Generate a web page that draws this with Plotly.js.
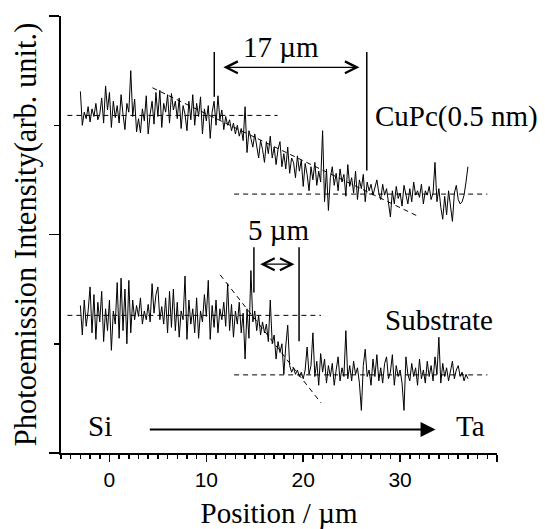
<!DOCTYPE html>
<html>
<head>
<meta charset="utf-8">
<script src="https://cdn.plot.ly/plotly-3.0.1.min.js"></script>
<style>html,body{margin:0;padding:0;background:#fff;}#chart{width:545px;height:529px;}</style>
</head>
<body>
<div id="chart"></div>
<script>
// Positions (µm) shared by both line scans
const position = [
-3,-2.8,-2.6,-2.4,-2.2, -2,-1.8,-1.6,-1.4,-1.2, -1,-0.8,-0.6,-0.4,-0.2,
0,0.2,0.4,0.6,0.8, 1,1.2,1.4,1.6,1.8, 2,2.2,2.4,2.6,2.8, 3,3.2,3.4,3.6,3.8,
4,4.2,4.4,4.6,4.8, 5,5.2,5.4,5.6,5.8, 6,6.2,6.4,6.6,6.8, 7,7.2,7.4,7.6,7.8,
8,8.2,8.4,8.6,8.8, 9,9.2,9.4,9.6,9.8, 10,10.2,10.4,10.6,10.8, 11,11.2,11.4,11.6,11.8,
12,12.2,12.4,12.6,12.8, 13,13.2,13.4,13.6,13.8, 14,14.2,14.4,14.6,14.8, 15,15.2,15.4,15.6,15.8,
16,16.2,16.4,16.6,16.8, 17,17.2,17.4,17.6,17.8, 18,18.2,18.4,18.6,18.8, 19,19.2,19.4,19.6,19.8,
20,20.2,20.4,20.6,20.8, 21,21.2,21.4,21.6,21.8, 22,22.2,22.4,22.6,22.8, 23,23.2,23.4,23.6,23.8,
24,24.2,24.4,24.6,24.8, 25,25.2,25.4,25.6,25.8, 26,26.2,26.4,26.6,26.8, 27,27.2,27.4,27.6,27.8,
28,28.2,28.4,28.6,28.8, 29,29.2,29.4,29.6,29.8, 30,30.2,30.4,30.6,30.8, 31,31.2,31.4,31.6,31.8,
32,32.2,32.4,32.6,32.8, 33,33.2,33.4,33.6,33.8, 34,34.2,34.4,34.6,34.8, 35,35.2,35.4,35.6,35.8,
36,36.2,36.4,36.6,36.8, 37
];

// CuPc(0.5 nm) line scan (arb. unit, offset)
const cupcIntensity = [
3.31,3.00,3.12,3.06,3.17, 3.03,3.15,3.08,3.20,3.05, 3.10,3.25,3.02,3.36,3.14,
3.30,2.98,3.22,3.07,3.18, 3.02,3.28,3.10,2.96,3.20, 3.12,3.50,3.08,3.24,2.94, 3.06,2.93,3.15,3.04,3.27,
2.92,3.10,3.22,3.01,3.30, 3.08,3.32,2.98,3.20,3.12, 3.28,3.02,3.29,3.14,3.22, 3.06,3.25,2.97,3.18,3.10,
2.95,3.22,3.05,3.28,3.00, 3.20,3.08,3.26,2.92,3.15, 3.04,3.18,2.88,3.12,3.22, 3.00,3.27,3.05,3.14,2.96,
3.08,3.00,3.05,2.95,3.02, 2.92,3.00,2.90,2.97,2.86, 3.17,2.75,2.95,2.88,2.80, 2.92,2.82,2.70,2.86,2.78,
2.66,2.85,2.74,2.90,2.70, 2.80,2.64,2.78,2.85,2.62, 2.74,2.60,2.80,2.56,2.70, 2.66,2.52,2.72,2.58,2.68,
2.44,2.65,2.55,2.40,2.62, 2.50,2.66,2.45,2.58,2.48, 2.95,2.30,2.60,2.22,2.52, 2.62,2.45,2.56,2.40,2.60,
2.48,2.55,2.35,2.64,2.44, 2.52,2.38,2.58,2.32,2.50, 2.42,2.55,2.30,2.48,2.40, 2.46,2.36,2.44,2.50,2.38,
2.32,2.46,2.36,2.42,2.30, 2.16,2.40,2.28,2.44,2.33, 2.38,2.26,2.45,2.35,2.28, 2.42,2.30,2.48,2.36,2.40,
2.34,2.46,2.28,2.40,2.36, 2.44,2.32,2.38,2.66,2.30, 2.42,2.25,2.14,2.35,2.18, 2.40,2.28,2.12,2.38,2.45,
2.32,2.28,2.30,2.36,2.48, 2.62
];

// Substrate line scan (arb. unit)
const substrateIntensity = [
1.35,1.08,1.40,1.16,1.30, 1.52,1.10,1.45,1.04,1.38, 1.20,1.48,1.02,1.32,1.12,
1.40,0.94,1.30,1.18,1.56, 1.05,1.60,1.12,1.50,1.00, 1.58,1.10,1.40,1.22,1.35, 1.25,1.42,1.18,1.30,1.22,
1.36,1.20,1.55,1.28,1.45, 1.52,1.22,1.34,1.18,1.42, 1.10,1.48,1.15,1.50,1.12, 1.38,1.06,1.30,1.22,1.62,
1.04,1.40,1.18,1.32,1.10, 1.42,1.05,1.30,1.20,1.45, 1.25,1.58,1.04,1.35,1.15, 1.40,1.10,1.32,1.22,1.38,
1.16,1.55,1.12,1.36,1.06, 1.30,1.18,1.38,1.10,1.28, 0.86,1.32,1.05,1.67,1.20, 1.30,1.12,1.26,1.08,1.20,
1.10,1.18,1.02,1.40,1.00, 1.08,0.86,1.02,0.92,1.00, 0.72,0.98,1.17,0.80,0.74, 0.78,0.72,0.76,0.70,0.74,
0.68,0.76,0.97,0.72,0.80, 1.10,0.70,0.84,0.62,0.91, 0.74,0.86,0.64,0.80,0.70, 0.82,0.62,0.76,0.88,0.66,
0.78,0.70,1.12,0.68,0.80, 0.66,0.84,0.72,0.78,0.64, 0.39,0.80,0.95,0.70,0.76, 0.62,0.86,0.70,0.90,0.66,
0.78,0.64,0.82,0.88,0.68, 0.74,0.90,0.62,0.80,0.70, 0.76,0.64,0.39,0.88,0.72, 0.66,0.82,0.70,0.78,0.62,
0.86,0.68,0.76,0.64,0.84, 0.70,0.80,0.66,0.88,0.72, 1.06,0.64,0.82,0.70,0.78, 0.66,0.74,0.84,0.68,0.76,
0.80,0.70,0.74,0.66,0.72, 0.68
];

// Plateau levels and edge-fit lines
const cupcLevels = [3.09, 2.37];
const cupcSlope = {x: [4.44, 31.7], y: [3.343, 2.173]};
const cupcEdges = [10.82, 26.56];
const subLevels = [1.26, 0.715];
const subSlope = {x: [11.43, 21.83], y: [1.63, 0.459]};
const subEdges = [14.91, 19.57];

const xTickVals = [0, 10, 20, 30, 40];
const xTickText = ['0', '10', '20', '30', ''];

const serif = 'Liberation Serif, Times New Roman, Times, serif';
const sans = 'Liberation Sans, Arial, Helvetica, sans-serif';
const FS = 29;

const traces = [
  {x: position, y: cupcIntensity, type: 'scatter', mode: 'lines', line: {color: 'black', width: 1}, name: 'CuPc(0.5 nm)'},
  {x: position, y: substrateIntensity, type: 'scatter', mode: 'lines', line: {color: 'black', width: 1}, name: 'Substrate'}
];

const dashed = {color: 'black', width: 1, dash: '5px,4px'};
const solid = {color: 'black', width: 1.5};
function hline(x0, x1, y) { return {type: 'line', xref: 'x', yref: 'y', x0: x0, x1: x1, y0: y, y1: y, line: dashed}; }
function vline(x, y0, y1) { return {type: 'line', xref: 'x', yref: 'y', x0: x, x1: x, y0: y0, y1: y1, line: solid}; }

const shapes = [
  hline(-4.34, 17.35, cupcLevels[0]),
  hline(12.87, 39.0, cupcLevels[1]),
  {type: 'line', xref: 'x', yref: 'y', x0: cupcSlope.x[0], x1: cupcSlope.x[1], y0: cupcSlope.y[0], y1: cupcSlope.y[1], line: dashed},
  vline(cupcEdges[0], 3.26, 3.67),
  vline(cupcEdges[1], 2.585, 3.67),
  hline(-4.34, 21.83, subLevels[0]),
  hline(12.87, 39.0, subLevels[1]),
  {type: 'line', xref: 'x', yref: 'y', x0: subSlope.x[0], x1: subSlope.x[1], y0: subSlope.y[0], y1: subSlope.y[1], line: dashed},
  vline(subEdges[0], 1.468, 1.883),
  vline(subEdges[1], 1.024, 1.883)
];

function dbl(x0, x1, y) {
  return {x: x1, y: y, ax: x0, ay: y, xref: 'x', yref: 'y', axref: 'x', ayref: 'y', text: '',
    showarrow: true, arrowside: 'end+start', arrowhead: 5, startarrowhead: 5,
    arrowsize: 1.8, startarrowsize: 1.8, arrowwidth: 1.3, arrowcolor: 'black', standoff: 0, startstandoff: 0};
}

function label(x, y, text, anchor) {
  return {x: x, y: y, xref: 'x', yref: 'y', text: text, xanchor: anchor || 'center', showarrow: false,
    font: {family: serif, size: FS, color: 'black'}};
}

const annotations = [
  label(17.7, 3.72, '17 µm'),
  dbl(11.6, 25.8, 3.53),
  label(27.2, 3.08, 'CuPc(0.5 nm)', 'left'),
  label(17.45, 2.04, '5 µm'),
  dbl(15.4, 19.1, 1.728),
  label(34.0, 1.22, 'Substrate'),
  label(-0.93, 0.245, 'Si'),
  label(37.24, 0.245, 'Ta'),
  {x: 33.66, y: 0.214, ax: 4.01, ay: 0.214, xref: 'x', yref: 'y', axref: 'x', ayref: 'y', text: '',
    showarrow: true, arrowhead: 2, arrowsize: 1.5, arrowwidth: 2, arrowcolor: 'black', standoff: 0}
];

const layout = {
  width: 545, height: 529,
  margin: {l: 61, r: 48, t: 16, b: 76},
  paper_bgcolor: 'white', plot_bgcolor: 'white',
  showlegend: false,
  font: {family: serif, color: 'black', size: FS},
  xaxis: {
    range: [-5, 40], showgrid: false, zeroline: false, showline: true, linecolor: 'black', linewidth: 2,
    ticks: 'outside', ticklen: 7, tickwidth: 1.5, tickcolor: 'black',
    tickmode: 'array', tickvals: xTickVals, ticktext: xTickText,
    tickfont: {family: sans, size: 21, color: 'black'},
    minor: {dtick: 1, tick0: 0, ticks: 'outside', ticklen: 4, tickwidth: 1.5, tickcolor: 'black', showgrid: false},
    title: {text: 'Position / µm', font: {family: serif, size: FS, color: 'black'}, standoff: 14}
  },
  yaxis: {
    range: [0, 4], showgrid: false, zeroline: false, showline: true, linecolor: 'black', linewidth: 2,
    ticks: 'outside', ticklen: 10, tickwidth: 1.5, tickcolor: 'black',
    tickmode: 'array', tickvals: [0, 2, 4], showticklabels: false,
    minor: {dtick: 1, tick0: 0, ticks: 'outside', ticklen: 5, tickwidth: 1.5, tickcolor: 'black', showgrid: false},
    title: {text: 'Photoemission Intensity(arb. unit.)', font: {family: serif, size: 30.5, color: 'black'}, standoff: 3}
  },
  shapes: shapes,
  annotations: annotations
};

Plotly.newPlot('chart', traces, layout, {displayModeBar: false, staticPlot: true});
</script>
</body>
</html>
